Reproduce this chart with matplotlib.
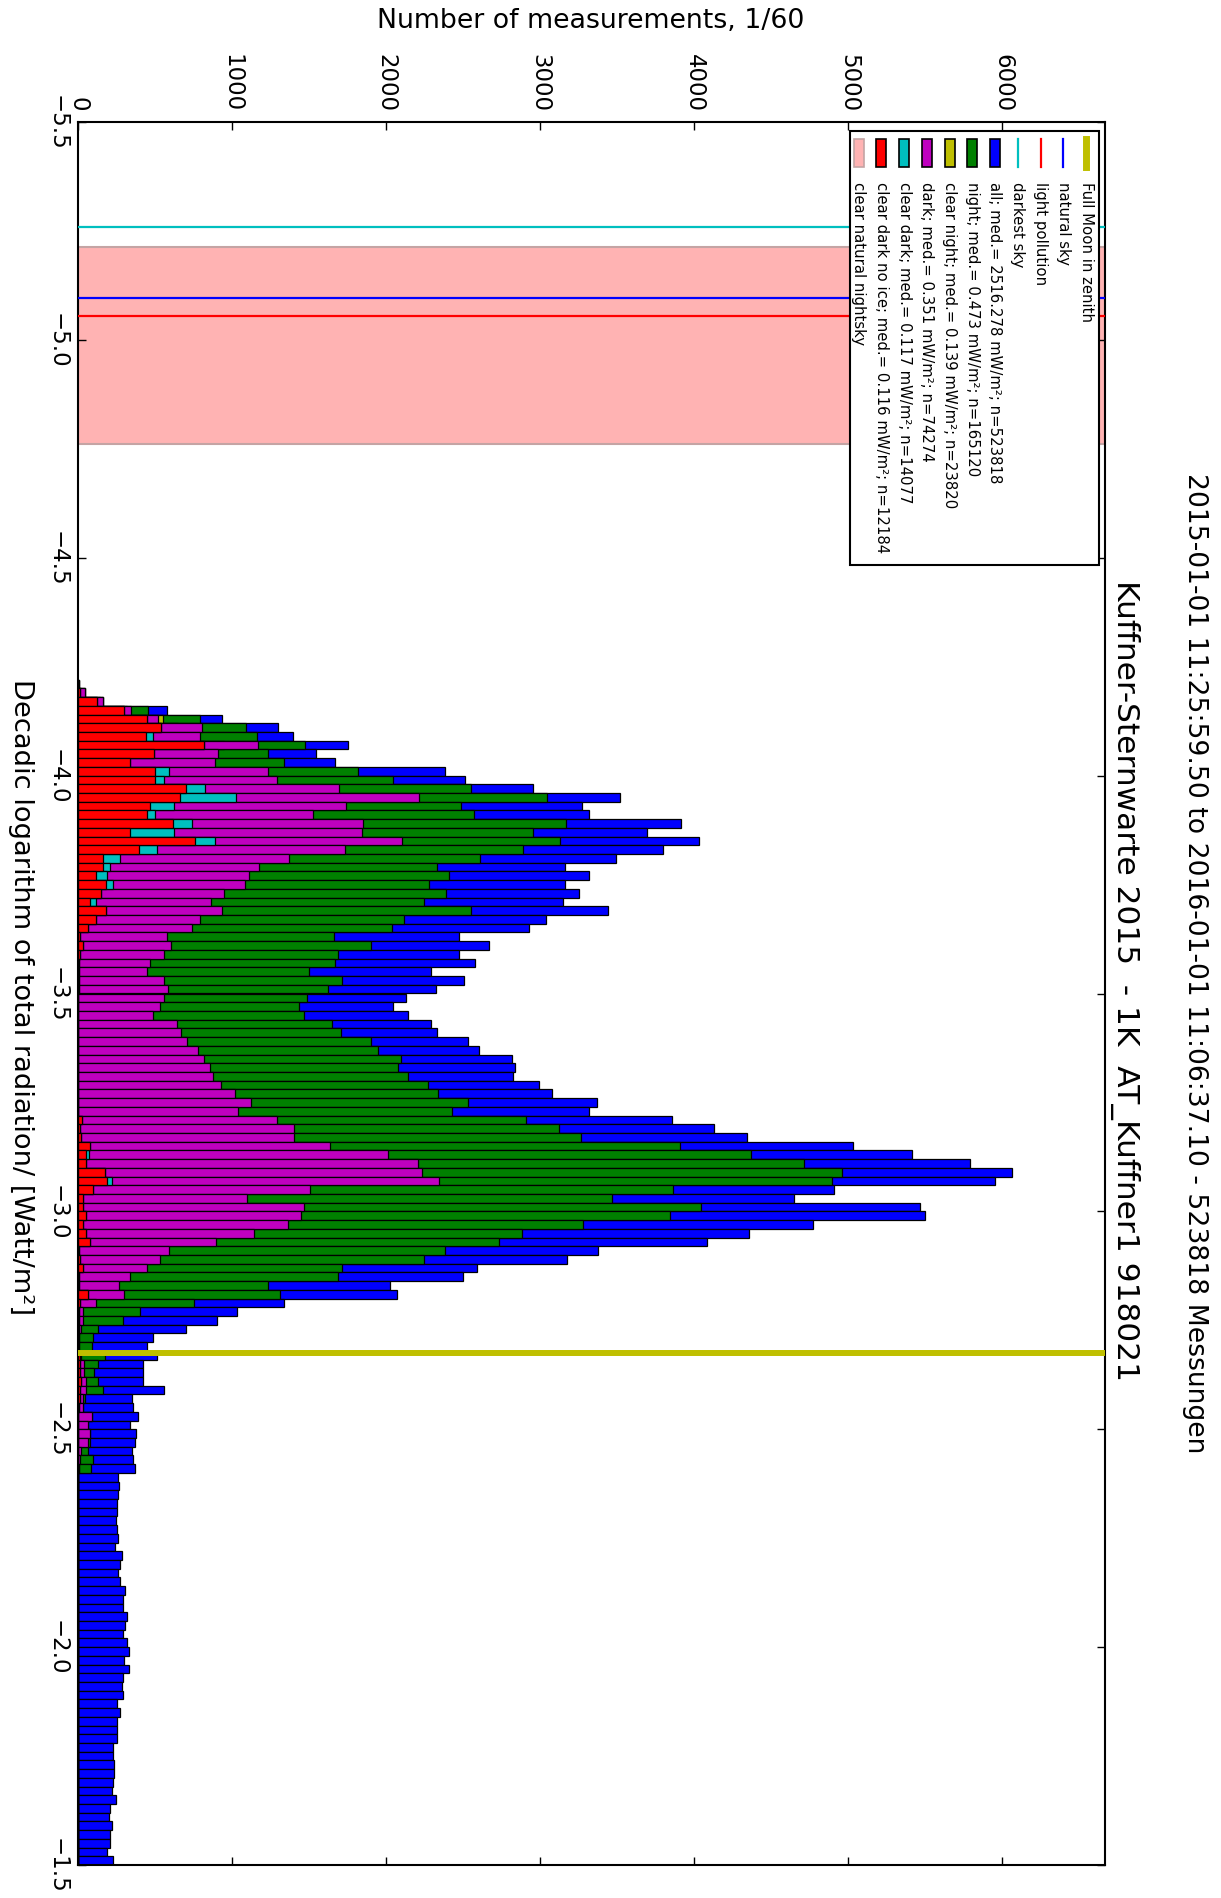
import numpy as np
import matplotlib
matplotlib.use("Agg")
import matplotlib.pyplot as plt
from matplotlib.patches import Rectangle
from matplotlib.lines import Line2D

# ==========================================================
# Histogram bins: decadic log of total radiation [W/m^2]
# ==========================================================

BIN_START = -4.22
BIN_WIDTH = 0.02

# ==========================================================
# Counts per bin (number of measurements, 1/60)
# ==========================================================

counts_all = [
    5, 45, 160, 580, 935, 1300, 1395, 1750, 1545, 1670, 2385, 2510,
    2955, 3520, 3270, 3320, 3915, 3690, 4030, 3800, 3490, 3160, 3320, 3160,
    3250, 3145, 3440, 3035, 2930, 2470, 2665, 2470, 2575, 2290, 2505, 2325,
    2130, 2045, 2145, 2290, 2330, 2530, 2600, 2820, 2835, 2825, 2990, 3075,
    3370, 3320, 3855, 4125, 4345, 5030, 5415, 5790, 6060, 5955, 4910, 4645,
    5465, 5500, 4770, 4355, 4080, 3375, 3175, 2590, 2500, 2025, 2070, 1340,
    1030, 900, 700, 485, 445, 515, 425, 420, 425, 555, 350, 355,
    390, 340, 375, 370, 350, 355, 370, 260, 265, 260, 250, 250,
    245, 250, 260, 240, 285, 275, 260, 270, 305, 290, 295, 315,
    305, 295, 320, 330, 300, 330, 295, 285, 295, 255, 270, 255,
    255, 250, 230, 230, 235, 235, 225, 220, 245, 210, 200, 220,
    210, 205, 190, 230,
]

counts_night = [
    5, 45, 160, 455, 790, 1090, 1160, 1475, 1235, 1335, 1820, 2045,
    2550, 3045, 2485, 2570, 3170, 2955, 3130, 2890, 2610, 2330, 2405, 2280,
    2390, 2245, 2550, 2115, 2035, 1660, 1905, 1690, 1670, 1500, 1715, 1620,
    1485, 1435, 1470, 1650, 1705, 1900, 1945, 2095, 2075, 2140, 2275, 2335,
    2530, 2425, 2905, 3125, 3265, 3910, 4370, 4715, 4960, 4895, 3860, 3465,
    4045, 3840, 3275, 2885, 2735, 2385, 2245, 1715, 1690, 1230, 1310, 750,
    405, 295, 130, 95, 90, 175, 130, 105, 130, 160, 45, 35,
    90, 65, 80, 80, 65, 100, 85,
] + [0] * 45

counts_clear_night = [
    0, 20, 140, 320, 550, 650, 600, 950, 650, 500, 750, 720,
    980, 1250, 800, 700, 950, 850, 1100, 700, 400, 330, 300, 320,
    280, 220, 260, 210, 180, 120, 130, 110, 100, 100, 110, 120,
    110, 105, 100, 120, 130, 140, 150, 160, 170, 175, 185, 200,
    220, 210, 260, 280, 280, 330, 400, 440, 450, 470, 300, 220,
    290, 290, 270, 230, 180, 120, 110, 90, 70, 55, 80, 30,
    10, 10, 10, 5, 5, 15, 20, 20, 25, 20, 15, 10,
    30, 25, 30, 25, 10, 5, 5,
] + [0] * 45

counts_dark = [
    5, 45, 160, 345, 520, 805, 790, 1170, 910, 890, 1230, 1290,
    1695, 2215, 1740, 1525, 1850, 1845, 2105, 1730, 1370, 1175, 1110, 1085,
    950, 865, 935, 790, 740, 575, 605, 555, 465, 450, 560, 585,
    560, 530, 485, 640, 670, 705, 780, 820, 860, 875, 930, 1020,
    1120, 1040, 1290, 1405, 1400, 1635, 2010, 2210, 2230, 2340, 1505, 1095,
    1465, 1450, 1365, 1140, 895, 590, 535, 450, 335, 265, 300, 120,
    30, 35, 20, 5, 5, 20, 40, 40, 55, 50, 30, 30,
    90, 65, 80, 65, 20, 10, 5,
] + [0] * 45

counts_clear_dark = [
    3, 15, 125, 300, 445, 540, 485, 815, 495, 340, 590, 560,
    825, 1025, 620, 500, 740, 625, 890, 510, 275, 210, 190, 230,
    150, 115, 180, 115, 65, 10, 35, 10, 5, 5, 5, 5,
    0, 0, 0, 0, 0, 0, 0, 0, 0, 0, 0, 0,
    0, 0, 25, 10, 20, 80, 70, 55, 175, 220, 95, 35,
    35, 55, 35, 55, 75, 5, 15, 30, 5, 5, 65, 15,
    5, 5, 5, 0, 0, 10, 15, 15, 20, 15, 10, 5,
] + [0] * 52

counts_clear_dark_noice = [
    3, 15, 125, 300, 445, 540, 440, 815, 495, 340, 500, 500,
    700, 665, 470, 445, 615, 335, 760, 395, 160, 165, 120, 180,
    150, 80, 180, 115, 65, 10, 35, 10, 5, 5, 5, 5,
    0, 0, 0, 0, 0, 0, 0, 0, 0, 0, 0, 0,
    0, 0, 25, 10, 20, 80, 50, 55, 175, 190, 95, 35,
    35, 55, 35, 55, 75, 5, 15, 30, 5, 5, 65, 15,
    5, 5, 5, 0, 0, 10, 15, 15, 20, 15, 10, 5,
] + [0] * 52

# ==========================================================
# Series labels
# ==========================================================

series_names = ["all", "night", "clear night", "dark", "clear dark",
                "clear dark no ice"]
series_medians = [2516.278, 0.473, 0.139, 0.351, 0.117, 0.116]
series_n = [523818, 165120, 23820, 74274, 14077, 12184]
series_counts = [counts_all, counts_night, counts_clear_night, counts_dark,
                 counts_clear_dark, counts_clear_dark_noice]
series_colors = [(0, 0, 1), (0, 0.5, 0), (0.75, 0.75, 0), (0.75, 0, 0.75),
                 (0, 0.75, 0.75), (1, 0, 0)]

# ==========================================================
# Reference levels (log10 W/m^2)
# ==========================================================

FULL_MOON = -2.675
NATURAL_SKY = -5.096
LIGHT_POLLUTION = -5.055
DARKEST_SKY = -5.260
NIGHTSKY_LOW = -5.212
NIGHTSKY_HIGH = -4.761

TITLE = "Kuffner-Sternwarte 2015  - 1K  AT_Kuffner1 918021"
SUPTITLE = ("2015-01-01 11:25:59.50 to 2016-01-01 11:06:37.10 - "
            "523818 Messungen")

# ==========================================================
# Figure (drawn rotated: counts run left->right, log runs downward)
# ==========================================================

W, H = 1221, 1899
fig = plt.figure(figsize=(W / 100, H / 100), dpi=100)

AX_L, AX_R, AX_T, AX_B = 78, 1105, 123, 1866
ax = fig.add_axes([AX_L / W, 1 - AX_B / H, (AX_R - AX_L) / W,
                   (AX_B - AX_T) / H])

bin_starts = BIN_START + BIN_WIDTH * np.arange(len(counts_all))

for counts, color in zip(series_counts, series_colors):
    ax.barh(bin_starts, counts, height=BIN_WIDTH, align="edge",
            color=color, edgecolor="black", linewidth=0.9, zorder=2)

ax.axhspan(NIGHTSKY_LOW, NIGHTSKY_HIGH, facecolor="#FFB3B3",
           edgecolor="#C4A4A4", linewidth=1.5, zorder=1)
ax.axhline(DARKEST_SKY, color=(0, 0.75, 0.75), linewidth=1.6, zorder=3)
ax.axhline(NATURAL_SKY, color="blue", linewidth=1.6, zorder=3)
ax.axhline(LIGHT_POLLUTION, color="red", linewidth=1.6, zorder=3)
ax.axhline(FULL_MOON, color=(0.75, 0.75, 0), linewidth=4.3, zorder=3)

ax.set_xlim(0, 1.1 * max(counts_all))
ax.set_ylim(-1.5, -5.5)
ax.set_xticks(np.arange(0, 6001, 1000))
ax.set_yticks(np.arange(-5.5, -1.49, 0.5))
ax.xaxis.tick_top()
ax.tick_params(axis="both", direction="in", length=6, width=1,
               top=True, bottom=True, left=True, right=True,
               labelsize=16.5)
ax.tick_params(axis="x", labelrotation=-90, pad=8)
ax.tick_params(axis="y", labelrotation=-90, pad=7)
for lbl in ax.get_yticklabels():
    lbl.set_verticalalignment("center")
for side in ax.spines.values():
    side.set_linewidth(1.5)

# ==========================================================
# Texts
# ==========================================================

fig.text(591 / W, 1 - 21 / H, "Number of measurements, 1/60",
         ha="center", va="center", fontsize=19.3)
fig.text(21 / W, 1 - 997 / H,
         "Decadic logarithm of total radiation/ [Watt/m²]",
         ha="center", va="center", rotation=-90, fontsize=19.6)
fig.text(1125 / W, 1 - 580 / H, TITLE, ha="center", va="top",
         rotation=-90, fontsize=22.5)
fig.text(1195 / W, 1 - 473 / H, SUPTITLE, ha="center", va="top",
         rotation=-90, fontsize=19.2)

# ==========================================================
# Legend (rotated, built by hand in pixel coordinates)
# ==========================================================

lg = fig.add_axes([0, 0, 1, 1])
lg.set_xlim(0, W)
lg.set_ylim(H, 0)
lg.axis("off")

lg.add_patch(Rectangle((850, 132), 249, 434, facecolor="white",
                       edgecolor="black", linewidth=1.5))

legend_labels = ["Full Moon in zenith", "natural sky", "light pollution",
                 "darkest sky"]
legend_labels += [f"{nm}; med.= {md:.3f} mW/m²; n={n}"
                  for nm, md, n in zip(series_names, series_medians,
                                       series_n)]
legend_labels += ["clear natural nightsky"]

line_styles = [((0.75, 0.75, 0), 5.0), ("blue", 1.6), ("red", 1.6),
               ((0, 0.75, 0.75), 1.6)]

entry_x = 1086
entry_step = 22.75
for i, text in enumerate(legend_labels):
    x = entry_x - i * entry_step
    if i < 4:
        color, lw = line_styles[i]
        lg.add_line(Line2D([x, x], [140, 168], color=color, linewidth=lw))
    elif i < 10:
        lg.add_patch(Rectangle((x - 5, 140), 10, 28,
                               facecolor=series_colors[i - 4],
                               edgecolor="black", linewidth=1.2))
    else:
        lg.add_patch(Rectangle((x - 5, 140), 10, 28, facecolor="#FFB3B3",
                               edgecolor="#C4A4A4", linewidth=1.2))
    lg.text(x, 182, text, rotation=-90, ha="center", va="top",
            fontsize=10.7)

plt.savefig("out.png", dpi=100)
plt.close()
